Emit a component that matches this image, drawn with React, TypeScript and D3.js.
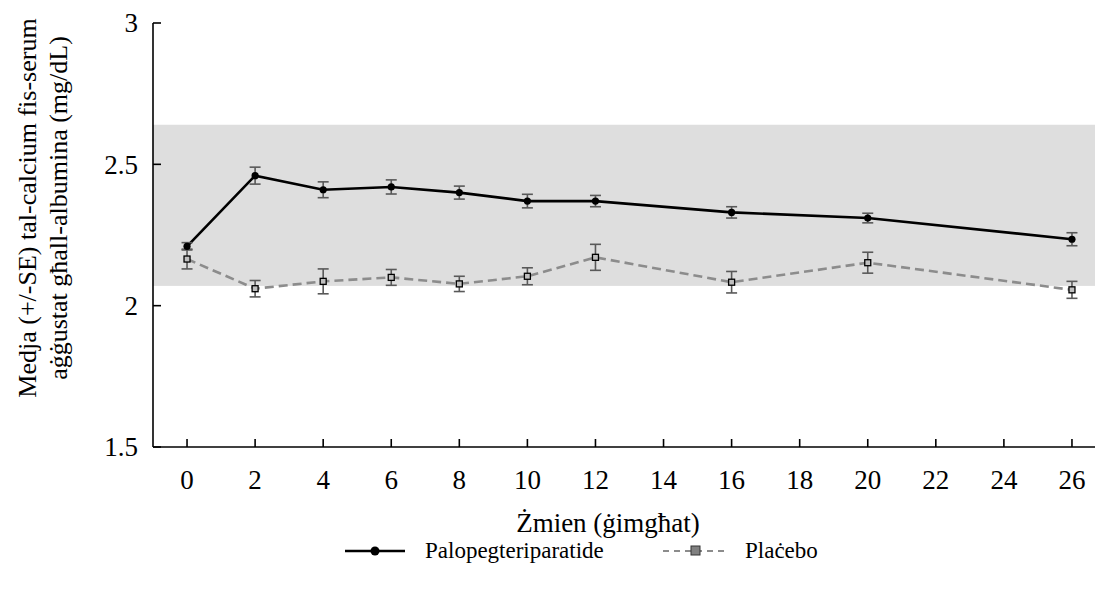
import React from "react";
import * as d3 from "d3";

const weeks = ["0", "2", "4", "6", "8", "10", "12", "14", "16", "18", "20", "22", "24", "26"];
const dataWeeks = ["0", "2", "4", "6", "8", "10", "12", "16", "20", "26"];
const palopegMean = [2.21, 2.46, 2.41, 2.42, 2.4, 2.37, 2.37, 2.33, 2.31, 2.235];
const palopegSE = [0.013, 0.03, 0.028, 0.025, 0.023, 0.024, 0.02, 0.02, 0.017, 0.023];
const placeboMean = [2.165, 2.06, 2.086, 2.1, 2.077, 2.104, 2.171, 2.083, 2.152, 2.056];
const placeboSE = [0.035, 0.029, 0.044, 0.028, 0.027, 0.03, 0.046, 0.038, 0.037, 0.03];
const normalRange = [2.07, 2.64];
const yTicks = [1.5, 2, 2.5, 3];

const FONT = '"Liberation Serif"';

const W = 1095,
  H = 589;
const left = 153,
  right = 1106,
  top = 23,
  bottom = 447;

const x = d3.scalePoint().domain(weeks).range([left, right]).padding(0.5);
const y = d3.scaleLinear().domain([1.5, 3]).range([bottom, top]);

const line = d3
  .line<[string, number]>()
  .x((d) => x(d[0]) as number)
  .y((d) => y(d[1]));

const ErrorBars = ({ mean, se }: { mean: number[]; se: number[] }) => (
  <g stroke="#595959" strokeWidth={1.6}>
    {dataWeeks.map((w, i) => {
      const cx = x(w) as number;
      const y0 = y(mean[i] - se[i]);
      const y1 = y(mean[i] + se[i]);
      return (
        <g key={w}>
          <line x1={cx} x2={cx} y1={y0} y2={y1} />
          <line x1={cx - 5.5} x2={cx + 5.5} y1={y0} y2={y0} />
          <line x1={cx - 5.5} x2={cx + 5.5} y1={y1} y2={y1} />
        </g>
      );
    })}
  </g>
);

const App = () => {
  const placeboPts = dataWeeks.map((w, i) => [w, placeboMean[i]] as [string, number]);
  const palopegPts = dataWeeks.map((w, i) => [w, palopegMean[i]] as [string, number]);

  return (
    <svg
      width={W}
      height={H}
      style={{ position: "absolute", left: 0, top: 0, background: "#fff", fontFamily: FONT }}
    >
      {/* normal range band */}
      <rect
        x={left}
        y={y(normalRange[1])}
        width={W - left}
        height={y(normalRange[0]) - y(normalRange[1])}
        fill="#dedede"
      />

      {/* y axis */}
      <line x1={left} x2={left} y1={top} y2={bottom} stroke="#000" strokeWidth={1.6} />
      {yTicks.map((t) => (
        <g key={t}>
          <line x1={left} x2={left + 8} y1={y(t)} y2={y(t)} stroke="#000" strokeWidth={1.6} />
          <text
            x={138}
            y={y(t)}
            dy="0.35em"
            textAnchor="end"
            style={{ fontFamily: FONT, fontSize: "27px" }}
          >
            {String(t)}
          </text>
        </g>
      ))}

      {/* x axis */}
      <line x1={left} x2={right} y1={bottom} y2={bottom} stroke="#000" strokeWidth={1.6} />
      {weeks.map((w) => (
        <g key={w}>
          <line x1={x(w)} x2={x(w)} y1={bottom} y2={bottom - 8} stroke="#000" strokeWidth={1.6} />
          <text x={x(w)} y={489} textAnchor="middle" style={{ fontFamily: FONT, fontSize: "27px" }}>
            {w}
          </text>
        </g>
      ))}

      {/* placebo */}
      <path
        d={line(placeboPts) || ""}
        fill="none"
        stroke="#8c8c8c"
        strokeWidth={2.6}
        strokeDasharray="9,5"
      />
      <ErrorBars mean={placeboMean} se={placeboSE} />
      {placeboPts.map((p) => (
        <rect
          key={p[0]}
          x={(x(p[0]) as number) - 3}
          y={y(p[1]) - 3}
          width={6}
          height={6}
          fill="#bfbfbf"
          stroke="#000"
          strokeWidth={1.3}
        />
      ))}

      {/* palopegteriparatide */}
      <path d={line(palopegPts) || ""} fill="none" stroke="#000" strokeWidth={2.6} />
      <ErrorBars mean={palopegMean} se={palopegSE} />
      {palopegPts.map((p) => (
        <circle key={p[0]} cx={x(p[0])} cy={y(p[1])} r={3.6} fill="#000" />
      ))}

      {/* axis titles */}
      <text x={608} y={532} textAnchor="middle" style={{ fontFamily: FONT, fontSize: "27px" }}>
        Żmien (ġimgħat)
      </text>
      <text
        transform="translate(36,208) rotate(-90)"
        textAnchor="middle"
        style={{ fontFamily: FONT, fontSize: "26px" }}
      >
        <tspan x={0} y={0}>
          Medja (+/-SE) tal-calcium fis-serum
        </tspan>
        <tspan x={0} y={31}>
          aġġustat għall-albumina (mg/dL)
        </tspan>
      </text>

      {/* legend */}
      <g style={{ fontFamily: FONT, fontSize: "23px" }}>
        <line x1={345} x2={405} y1={551} y2={551} stroke="#000" strokeWidth={2.6} />
        <circle cx={375} cy={551} r={4.5} fill="#000" />
        <text x={425} y={558}>
          Palopegteriparatide
        </text>
        <line
          x1={663}
          x2={727}
          y1={551}
          y2={551}
          stroke="#8c8c8c"
          strokeWidth={2.2}
          strokeDasharray="6,5"
        />
        <rect x={691} y={546} width={9} height={9} fill="#808080" stroke="#333" strokeWidth={1} />
        <text x={745} y={558}>
          Plaċebo
        </text>
      </g>
    </svg>
  );
};

export default App;
